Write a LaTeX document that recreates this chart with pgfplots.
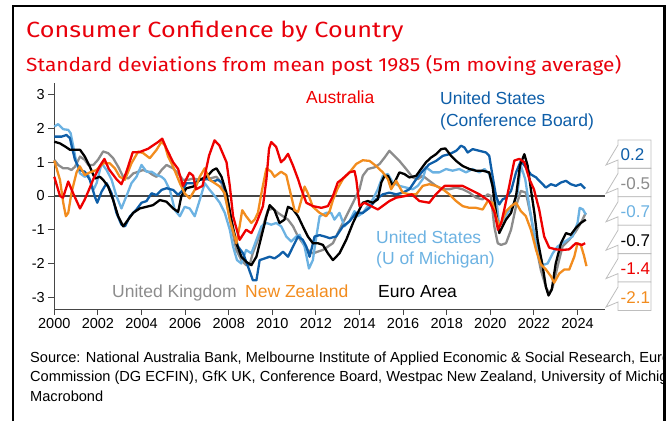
\documentclass[border=0pt]{standalone}
\usepackage{fontspec}
\setmainfont{Liberation Sans}
\newfontfamily\titlefont{Fira Sans}
\usepackage{pgfplots}
\pgfplotsset{compat=1.18}

\definecolor{ttred}{RGB}{232,0,11}
\definecolor{cbred}{RGB}{238,0,0}
\definecolor{cbdark}{RGB}{14,94,168}
\definecolor{cblight}{RGB}{108,178,226}
\definecolor{cbgray}{RGB}{140,140,140}
\definecolor{cborange}{RGB}{242,140,30}
\definecolor{axgray}{RGB}{70,70,70}
\definecolor{boxgray}{RGB}{190,190,190}

\begin{document}
\begin{tikzpicture}[x=1pt,y=1pt]
\path[use as bounding box] (0,0) rectangle (669,421);

% titles
\node[anchor=base west, inner sep=0, xscale=1.145, text=ttred, font=\titlefont\fontsize{22}{24}\selectfont] at (26,383.5) {Consumer Confidence by Country};
\node[anchor=base west, inner sep=0, xscale=1.1, text=ttred, font=\titlefont\fontsize{19}{21}\selectfont] at (26,349.5) {Standard deviations from mean post 1985 (5m moving average)};

\begin{axis}[
  at={(54.3pt,112pt)}, anchor=south west,
  scale only axis, width=550.7pt, height=226pt,
  xmin=2000, xmax=2025.26, ymin=-3.35, ymax=3.35,
  axis lines=left,
  axis line style={-, line width=1pt, axgray},
  xtick={2000,2002,...,2024},
  ytick={-3,-2,-1,0,1,2,3},
  tick style={axgray, line width=1pt},
  tick align=outside,
  major tick length=6pt,
  /pgf/number format/assume math mode=true,
  x tick label style={/pgf/number format/1000 sep={}, font=\fontsize{14.5}{16}\selectfont},
  y tick label style={font=\fontsize{14.5}{16}\selectfont},
  clip=false,
  every axis plot/.append style={line width=2.3pt, line join=round, no markers},
]
\draw[axgray, line width=1.4pt] (axis cs:2000,0) -- (axis cs:2025.26,0);

% United Kingdom
\addplot[cbgray] coordinates {(2000.0,1.07) (2000.18,0.92) (2000.41,0.82) (2000.64,0.82) (2000.79,0.77) (2000.95,0.87) (2001.18,1.17) (2001.4,1.07) (2001.56,0.92) (2001.79,0.92) (2002.0,1.07) (2002.24,1.32) (2002.47,1.27) (2002.7,1.12) (2002.93,0.87) (2003.16,0.57) (2003.39,0.52) (2003.62,0.67) (2003.85,0.72) (2004.08,0.77) (2004.3,0.72) (2004.53,0.62) (2004.69,0.57) (2004.92,0.77) (2005.15,0.92) (2005.45,0.82) (2005.68,0.67) (2005.9,0.48) (2006.14,0.48) (2006.37,0.52) (2006.67,0.48) (2006.9,0.48) (2007.13,0.52) (2007.44,0.57) (2007.67,0.38) (2007.9,-0.2) (2008.12,-0.9) (2008.35,-1.6) (2008.58,-1.9) (2008.8,-2.05) (2008.96,-2.05) (2009.1,-1.7) (2009.34,-1.3) (2009.57,-0.9) (2009.8,-0.42) (2010.03,-0.37) (2010.26,-0.5) (2010.49,-0.6) (2010.72,-0.7) (2010.95,-0.9) (2011.18,-1.2) (2011.4,-1.4) (2011.63,-1.6) (2011.86,-1.7) (2012.09,-1.65) (2012.32,-1.6) (2012.55,-1.5) (2012.78,-1.4) (2013.08,-1.0) (2013.39,-0.6) (2013.7,-0.2) (2014.0,0.2) (2014.15,0.6) (2014.38,0.8) (2014.69,0.85) (2014.92,0.95) (2015.15,1.14) (2015.37,1.34) (2015.6,1.19) (2015.83,1.04) (2016.14,0.8) (2016.44,0.55) (2016.67,0.5) (2016.9,0.6) (2017.2,0.45) (2017.51,0.3) (2017.82,0.2) (2018.12,0.2) (2018.43,0.25) (2018.73,0.2) (2019.04,0.1) (2019.34,-0.05) (2019.65,-0.1) (2019.88,0.05) (2020.03,0.0) (2020.18,-0.9) (2020.34,-1.4) (2020.49,-1.45) (2020.72,-1.4) (2020.95,-1.0) (2021.18,-0.3) (2021.4,0.15) (2021.63,0.1) (2021.86,-0.6) (2022.1,-1.5) (2022.32,-2.2) (2022.55,-2.7) (2022.7,-2.9) (2022.86,-2.7) (2023.08,-2.1) (2023.31,-1.5) (2023.62,-1.3) (2023.92,-1.05) (2024.15,-0.8) (2024.38,-0.5)};

% United States (U of Michigan)
\addplot[cblight] coordinates {(2000.0,2.06) (2000.18,2.13) (2000.41,1.98) (2000.64,1.96) (2000.75,1.86) (2000.87,1.47) (2001.02,0.97) (2001.18,0.67) (2001.4,0.57) (2001.56,0.62) (2001.79,0.18) (2001.94,0.38) (2002.17,0.97) (2002.4,0.77) (2002.63,0.48) (2002.85,0.0) (2003.08,-0.37) (2003.31,0.0) (2003.54,0.38) (2003.77,0.57) (2004.0,0.92) (2004.23,0.72) (2004.46,0.72) (2004.69,0.62) (2004.92,0.57) (2005.07,0.48) (2005.3,0.18) (2005.53,-0.42) (2005.76,-0.6) (2005.98,-0.32) (2006.21,-0.37) (2006.44,-0.6) (2006.67,-0.12) (2006.9,0.38) (2007.13,0.18) (2007.36,0.0) (2007.59,-0.2) (2007.82,-0.5) (2008.05,-1.0) (2008.2,-1.5) (2008.38,-1.9) (2008.58,-2.0) (2008.8,-1.6) (2009.04,-1.7) (2009.27,-1.3) (2009.5,-0.9) (2009.73,-0.8) (2009.95,-0.85) (2010.18,-0.8) (2010.41,-0.9) (2010.64,-1.2) (2010.87,-1.35) (2011.1,-1.2) (2011.25,-1.15) (2011.48,-1.5) (2011.68,-2.15) (2011.86,-1.9) (2012.02,-1.2) (2012.17,-0.6) (2012.47,-0.5) (2012.7,-0.5) (2012.85,-0.7) (2013.08,-0.5) (2013.31,-0.9) (2013.54,-0.75) (2013.77,-0.45) (2013.92,-0.6) (2014.15,-0.5) (2014.38,-0.3) (2014.61,-0.1) (2014.84,0.2) (2015.07,0.6) (2015.3,0.65) (2015.53,0.4) (2015.83,0.3) (2016.14,0.25) (2016.44,0.2) (2016.67,0.3) (2016.9,0.5) (2017.05,0.85) (2017.36,0.7) (2017.66,0.7) (2017.97,0.8) (2018.27,0.75) (2018.58,0.8) (2018.88,0.7) (2019.19,0.8) (2019.5,0.7) (2019.73,0.8) (2019.95,0.65) (2020.1,0.3) (2020.26,0.0) (2020.41,-0.9) (2020.56,-0.75) (2020.79,-0.5) (2021.03,-0.3) (2021.25,0.1) (2021.4,0.9) (2021.6,0.5) (2021.79,-0.3) (2021.95,-0.9) (2022.17,-1.5) (2022.4,-2.05) (2022.63,-2.0) (2022.86,-1.7) (2023.08,-1.5) (2023.31,-1.4) (2023.54,-1.3) (2023.77,-1.2) (2024.0,-0.8) (2024.1,-0.35) (2024.25,-0.4) (2024.38,-0.55)};

% United States (Conference Board)
\addplot[cbdark] coordinates {(2000.0,1.76) (2000.34,1.76) (2000.56,1.81) (2000.72,1.71) (2000.8,1.47) (2000.95,1.07) (2001.18,0.77) (2001.4,0.72) (2001.63,0.48) (2001.86,-0.02) (2001.97,-0.2) (2002.17,0.13) (2002.4,0.38) (2002.63,0.08) (2002.85,-0.5) (2003.08,-0.85) (2003.24,-0.9) (2003.47,-0.6) (2003.77,-0.4) (2004.0,-0.2) (2004.23,-0.15) (2004.46,0.08) (2004.69,0.03) (2004.92,0.18) (2005.15,0.23) (2005.45,0.18) (2005.68,0.03) (2005.9,0.18) (2006.06,0.38) (2006.37,0.38) (2006.67,0.48) (2006.98,0.52) (2007.28,0.43) (2007.51,0.48) (2007.74,0.38) (2007.97,-0.2) (2008.2,-1.0) (2008.43,-1.5) (2008.66,-1.7) (2008.89,-2.1) (2009.11,-2.5) (2009.27,-2.5) (2009.42,-1.9) (2009.65,-1.85) (2009.88,-1.8) (2010.1,-1.85) (2010.33,-1.75) (2010.49,-1.65) (2010.72,-1.8) (2010.95,-1.5) (2011.18,-1.2) (2011.4,-1.3) (2011.56,-1.5) (2011.71,-1.8) (2011.94,-1.2) (2012.17,-1.16) (2012.4,-1.2) (2012.63,-1.25) (2012.93,-1.2) (2013.24,-0.9) (2013.54,-0.75) (2013.85,-0.5) (2014.15,-0.5) (2014.46,-0.35) (2014.76,-0.1) (2015.07,0.05) (2015.37,0.1) (2015.68,0.05) (2015.98,0.1) (2016.29,0.2) (2016.6,0.5) (2016.9,0.74) (2017.2,0.94) (2017.51,1.04) (2017.82,1.19) (2018.12,1.24) (2018.43,1.34) (2018.66,1.49) (2018.81,1.44) (2018.96,1.29) (2019.19,1.39) (2019.5,1.34) (2019.8,1.29) (2019.95,1.19) (2020.1,0.6) (2020.26,0.0) (2020.41,-0.25) (2020.56,-0.1) (2020.72,-0.05) (2020.95,0.15) (2021.18,0.7) (2021.4,1.04) (2021.63,0.85) (2021.86,0.64) (2022.1,0.55) (2022.32,0.4) (2022.55,0.25) (2022.78,0.35) (2023.0,0.3) (2023.24,0.4) (2023.47,0.45) (2023.69,0.35) (2023.92,0.3) (2024.15,0.35) (2024.35,0.22)};

% Euro Area
\addplot[black] coordinates {(2000.0,1.61) (2000.26,1.56) (2000.49,1.47) (2000.72,1.37) (2000.95,1.37) (2001.18,1.37) (2001.4,1.17) (2001.63,0.87) (2001.86,0.52) (2002.09,0.57) (2002.24,0.48) (2002.47,0.28) (2002.7,-0.12) (2002.93,-0.6) (2003.16,-0.9) (2003.39,-0.7) (2003.62,-0.5) (2003.92,-0.37) (2004.23,-0.32) (2004.53,-0.27) (2004.84,-0.12) (2005.15,-0.17) (2005.45,-0.37) (2005.68,-0.47) (2005.83,0.0) (2006.06,0.23) (2006.37,0.28) (2006.67,0.48) (2006.98,0.57) (2007.28,0.77) (2007.44,0.82) (2007.67,0.57) (2007.9,0.08) (2008.12,-0.7) (2008.35,-1.4) (2008.58,-1.8) (2008.8,-1.95) (2009.04,-2.05) (2009.27,-1.8) (2009.5,-1.2) (2009.73,-0.6) (2009.88,-0.27) (2010.1,-0.42) (2010.33,-0.8) (2010.56,-0.7) (2010.72,-0.32) (2010.95,-0.4) (2011.18,-0.6) (2011.4,-0.9) (2011.63,-1.2) (2011.86,-1.4) (2012.09,-1.4) (2012.32,-1.45) (2012.55,-1.7) (2012.78,-1.9) (2013.08,-1.7) (2013.39,-1.3) (2013.7,-0.8) (2013.92,-0.5) (2014.15,-0.2) (2014.38,-0.15) (2014.61,-0.2) (2014.84,-0.1) (2015.0,0.4) (2015.15,0.6) (2015.3,0.6) (2015.53,0.3) (2015.83,0.7) (2016.06,0.65) (2016.29,0.55) (2016.6,0.6) (2016.82,0.8) (2017.05,1.0) (2017.28,1.14) (2017.51,1.24) (2017.74,1.39) (2017.94,1.41) (2018.2,1.19) (2018.43,1.04) (2018.73,0.89) (2019.04,0.8) (2019.34,0.75) (2019.65,0.75) (2019.95,0.7) (2020.1,0.3) (2020.26,-0.5) (2020.41,-1.1) (2020.56,-0.9) (2020.72,-0.7) (2020.95,-0.5) (2021.18,0.0) (2021.36,0.9) (2021.56,1.24) (2021.71,0.9) (2021.86,0.2) (2022.02,-0.5) (2022.17,-1.3) (2022.4,-2.08) (2022.55,-2.7) (2022.67,-2.95) (2022.82,-2.77) (2023.0,-2.0) (2023.24,-1.4) (2023.47,-1.1) (2023.69,-1.15) (2023.92,-0.95) (2024.15,-0.8) (2024.38,-0.7)};

% New Zealand
\addplot[cborange] coordinates {(2000.0,1.05) (2000.26,0.48) (2000.41,-0.2) (2000.53,-0.6) (2000.64,-0.5) (2000.79,0.1) (2001.02,0.7) (2001.17,0.88) (2001.4,0.62) (2001.63,0.7) (2001.94,0.77) (2002.24,0.97) (2002.55,0.97) (2002.78,0.82) (2003.0,0.57) (2003.24,0.48) (2003.54,0.97) (2003.85,1.32) (2004.08,1.27) (2004.38,1.12) (2004.69,1.37) (2004.92,1.61) (2005.07,1.5) (2005.22,1.17) (2005.45,0.87) (2005.76,0.38) (2005.98,0.08) (2006.21,-0.07) (2006.44,0.18) (2006.67,0.57) (2006.9,0.82) (2007.13,0.48) (2007.36,0.38) (2007.59,0.28) (2007.82,0.08) (2008.05,-0.7) (2008.27,-1.2) (2008.35,-1.4) (2008.5,-0.9) (2008.62,-0.42) (2008.8,-0.6) (2009.04,-0.8) (2009.19,-0.7) (2009.34,-0.5) (2009.5,0.08) (2009.65,0.57) (2009.73,0.82) (2009.95,0.72) (2010.1,0.57) (2010.4,0.72) (2010.64,0.62) (2010.8,0.18) (2011.02,-0.42) (2011.18,-0.47) (2011.33,-0.12) (2011.48,0.28) (2011.63,0.08) (2011.86,-0.32) (2012.17,-0.5) (2012.47,-0.6) (2012.63,-0.45) (2012.78,-0.12) (2013.0,0.23) (2013.24,0.5) (2013.54,0.7) (2013.85,0.95) (2014.15,1.06) (2014.46,1.04) (2014.76,0.89) (2015.07,0.7) (2015.3,0.5) (2015.45,0.2) (2015.68,0.45) (2015.98,0.1) (2016.29,0.05) (2016.6,0.05) (2016.9,0.3) (2017.2,0.35) (2017.5,0.3) (2017.82,0.2) (2018.12,0.05) (2018.43,-0.15) (2018.73,-0.3) (2019.04,-0.35) (2019.34,-0.35) (2019.65,-0.4) (2019.88,-0.15) (2020.1,-0.2) (2020.26,-0.6) (2020.41,-0.9) (2020.56,-0.7) (2020.72,-0.45) (2020.95,-0.3) (2021.18,-0.2) (2021.4,-0.45) (2021.63,-0.6) (2021.86,-1.0) (2022.1,-1.6) (2022.32,-2.03) (2022.55,-2.18) (2022.78,-2.38) (2022.93,-2.57) (2023.16,-2.3) (2023.39,-2.18) (2023.62,-2.18) (2023.85,-1.8) (2024.0,-1.4) (2024.15,-1.45) (2024.3,-1.78) (2024.41,-2.08)};

% Australia
\addplot[cbred] coordinates {(2000.0,0.57) (2000.26,0.0) (2000.4,-0.05) (2000.64,0.43) (2000.85,0.1) (2001.18,-0.37) (2001.4,-0.1) (2001.6,0.2) (2001.79,0.5) (2002.1,0.9) (2002.3,1.1) (2002.5,0.8) (2002.85,0.5) (2003.08,0.35) (2003.3,0.7) (2003.6,1.3) (2003.9,1.3) (2004.3,1.4) (2004.76,1.6) (2004.95,1.7) (2005.15,1.4) (2005.45,1.0) (2005.68,0.8) (2005.9,0.3) (2006.2,0.69) (2006.37,0.6) (2006.5,0.2) (2006.8,0.3) (2007.1,1.2) (2007.35,1.65) (2007.57,1.5) (2007.9,1.0) (2008.05,0.3) (2008.2,-0.6) (2008.5,-1.3) (2008.8,-1.0) (2009.04,-1.1) (2009.27,-0.8) (2009.57,-0.3) (2009.73,0.5) (2009.85,1.4) (2009.95,1.6) (2010.18,1.45) (2010.4,1.0) (2010.56,1.1) (2010.72,1.25) (2010.95,0.9) (2011.18,0.5) (2011.33,0.2) (2011.56,-0.2) (2011.86,-0.3) (2012.25,-0.35) (2012.55,-0.3) (2012.78,0.0) (2013.0,0.4) (2013.2,0.5) (2013.54,0.7) (2013.77,0.74) (2013.85,0.5) (2014.0,-0.3) (2014.23,-0.2) (2014.84,-0.4) (2015.37,-0.15) (2015.68,-0.05) (2016.1,0.0) (2016.4,0.05) (2016.75,-0.15) (2017.2,-0.2) (2017.5,0.05) (2017.9,0.3) (2018.43,0.3) (2018.73,0.3) (2019.04,0.2) (2019.5,0.05) (2019.95,-0.15) (2020.2,-0.5) (2020.35,-1.0) (2020.5,-0.8) (2020.64,-0.4) (2020.87,0.3) (2021.1,1.05) (2021.33,1.1) (2021.56,1.0) (2021.79,0.5) (2022.0,0.2) (2022.24,-0.4) (2022.47,-1.2) (2022.7,-1.53) (2023.0,-1.58) (2023.31,-1.6) (2023.62,-1.58) (2023.92,-1.4) (2024.2,-1.45) (2024.35,-1.4)};
\end{axis}

% series labels
\begin{scope}[every node/.style={anchor=base west, inner sep=0, font=\fontsize{17.5}{19}\selectfont}]
\node[text=cbred] at (306,317) {Australia};
\node[text=cbdark] at (440,316) {United States};
\node[text=cbdark] at (440,294.5) {(Conference Board)};
\node[text=cblight] at (376,178) {United States};
\node[text=cblight] at (376,156.5) {(U of Michigan)};
\node[text=cbgray] at (112,124) {United Kingdom};
\node[text=cborange] at (245,124) {New Zealand};
\node[text=black] at (378,124) {Euro Area};
\end{scope}

% end-value callouts
\foreach \i/\v/\c in {0/0.2/cbdark, 1/-0.5/cbgray, 2/-0.7/cblight, 3/-0.7/black, 4/-1.4/cbred, 5/-2.1/cborange} {
  \pgfmathsetmacro{\T}{281-28.4*\i}
  \draw[boxgray, fill=white, line width=0.8pt] (651,\T) -- (618,\T) -- (618,\T-5) -- (606,\T-25) -- (618,\T-20) -- (618,\T-28.4) -- (651,\T-28.4) -- cycle;
  \node[anchor=base west, inner sep=0, text=\c, font=\fontsize{17}{19}\selectfont] at (620.5,\T-21) {\v};
}

% source
\begin{scope}
\clip (0,0) rectangle (663.5,421);
\node[anchor=base west, inner sep=0, font=\fontsize{14.6}{19}\selectfont] at (30,58.5) {Source: National Australia Bank, Melbourne Institute of Applied Economic \& Social Research, Euro};
\node[anchor=base west, inner sep=0, font=\fontsize{14.6}{19}\selectfont] at (30,39.2) {Commission (DG ECFIN), GfK UK, Conference Board, Westpac New Zealand, University of Michigan,};
\node[anchor=base west, inner sep=0, font=\fontsize{14.6}{19}\selectfont] at (30,20) {Macrobond};
\end{scope}

% frame
\draw[line width=2.4pt] (12.8,0) -- (12.8,415) -- (664.5,415) -- (664.5,0);
\end{tikzpicture}
\end{document}
